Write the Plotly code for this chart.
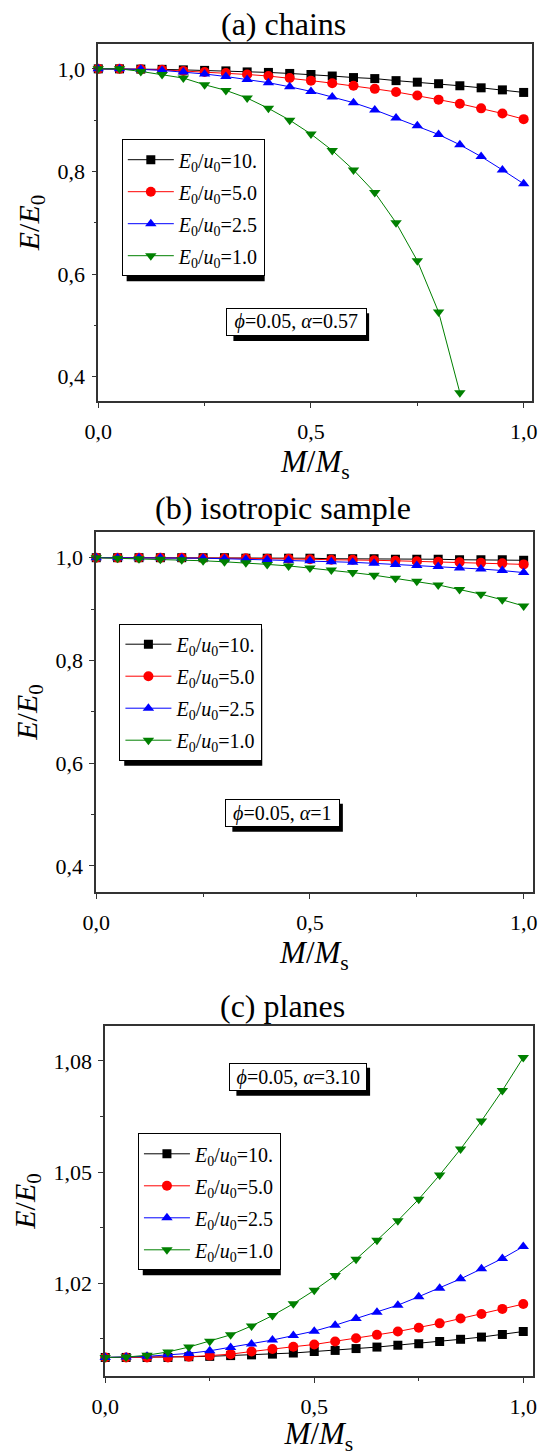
import plotly.graph_objects as go

# ---------------- data ----------------
x_vals = [0.00, 0.05, 0.10, 0.15, 0.20, 0.25, 0.30, 0.35, 0.40, 0.45, 0.50,
          0.55, 0.60, 0.65, 0.70, 0.75, 0.80, 0.85, 0.90, 0.95, 1.00]

series_names = ["<i>E</i><sub>0</sub>/<i>u</i><sub>0</sub>=10.",
                "<i>E</i><sub>0</sub>/<i>u</i><sub>0</sub>=5.0",
                "<i>E</i><sub>0</sub>/<i>u</i><sub>0</sub>=2.5",
                "<i>E</i><sub>0</sub>/<i>u</i><sub>0</sub>=1.0"]

# (a) chains
a_e10 = [1.000, 1.000, 0.9995, 0.999, 0.998, 0.997, 0.996, 0.994, 0.993, 0.991, 0.989,
         0.986, 0.983, 0.981, 0.977, 0.974, 0.971, 0.967, 0.963, 0.959, 0.954]
a_e5 = [1.000, 1.000, 0.999, 0.998, 0.996, 0.994, 0.992, 0.989, 0.986, 0.982, 0.977,
        0.972, 0.967, 0.961, 0.955, 0.948, 0.940, 0.932, 0.923, 0.913, 0.902]
a_e25 = [1.000, 1.000, 0.999, 0.997, 0.994, 0.990, 0.985, 0.979, 0.973, 0.965, 0.956,
         0.945, 0.934, 0.920, 0.904, 0.889, 0.872, 0.852, 0.829, 0.803, 0.776]
a_e1 = [1.000, 1.000, 0.995, 0.989, 0.982, 0.969, 0.958, 0.943, 0.923, 0.900, 0.873,
        0.841, 0.803, 0.759, 0.700, 0.626, 0.526, 0.369]

# (b) isotropic sample
b_e10 = [1.000, 1.000, 1.000, 1.000, 1.000, 1.000, 1.000, 0.999, 0.999, 0.999, 0.999,
         0.998, 0.998, 0.998, 0.997, 0.997, 0.997, 0.996, 0.996, 0.996, 0.995]
b_e5 = [1.000, 1.000, 1.000, 1.000, 1.000, 0.999, 0.999, 0.999, 0.998, 0.998, 0.997,
        0.996, 0.996, 0.995, 0.994, 0.993, 0.992, 0.991, 0.990, 0.989, 0.987]
b_e25 = [1.000, 1.000, 1.000, 1.000, 0.999, 0.999, 0.998, 0.997, 0.996, 0.995, 0.994,
         0.992, 0.991, 0.989, 0.987, 0.985, 0.983, 0.980, 0.978, 0.975, 0.971]
b_e1 = [1.000, 0.999, 0.998, 0.997, 0.996, 0.994, 0.992, 0.990, 0.987, 0.984, 0.980,
        0.976, 0.971, 0.966, 0.960, 0.954, 0.947, 0.938, 0.929, 0.918, 0.906]

# (c) planes
c_e10 = [1.0000, 1.0000, 1.0000, 1.0000, 1.0002, 1.0003, 1.0005, 1.0007, 1.0009, 1.0012, 1.0016,
         1.0019, 1.0024, 1.0028, 1.0033, 1.0037, 1.0043, 1.0049, 1.0055, 1.0062, 1.0070]
c_e5 = [1.0000, 1.0000, 1.0000, 1.0000, 1.0002, 1.0005, 1.0009, 1.0016, 1.0023, 1.0029, 1.0035,
        1.0043, 1.0052, 1.0061, 1.0070, 1.0080, 1.0092, 1.0105, 1.0117, 1.0131, 1.0144]
c_e25 = [1.0000, 1.0001, 1.0003, 1.0007, 1.0011, 1.0018, 1.0027, 1.0036, 1.0047, 1.0059, 1.0071,
         1.0087, 1.0105, 1.0122, 1.0141, 1.0164, 1.0187, 1.0212, 1.0239, 1.0267, 1.0299]
c_e1 = [1.0000, 1.0001, 1.0006, 1.0015, 1.0028, 1.0044, 1.0061, 1.0085, 1.0113, 1.0145, 1.0181,
        1.0221, 1.0265, 1.0316, 1.0369, 1.0427, 1.0492, 1.0562, 1.0638, 1.0720, 1.0809]

panel_titles = ["(a) chains", "(b) isotropic sample", "(c) planes"]
param_labels = ["<i>ϕ</i>=0.05, <i>α</i>=0.57",
                "<i>ϕ</i>=0.05, <i>α</i>=1",
                "<i>ϕ</i>=0.05, <i>α</i>=3.10"]

x_ticks = [0.0, 0.5, 1.0]
x_minor = [0.25, 0.75]
y_ticks_ab = [0.4, 0.6, 0.8, 1.0]
y_minor_ab = [0.5, 0.7, 0.9]
y_ticks_c = [1.02, 1.05, 1.08]
y_minor_c = [1.005, 1.035, 1.065]

# ---------------- style ----------------
W, H = 547, 1456
FONT = "Liberation Serif, Times New Roman, serif"
colors = ["#000000", "#FF0000", "#0000FF", "#008000"]
symbols = ["square", "circle", "triangle-up", "triangle-down"]
msizes = [9, 10, 10, 10]


def px(xp):
    return xp / W


def py(yp):
    return 1 - yp / H


# panel geometry in pixels: (left, right, top, bottom)
boxes = [(87.3, 537.0, 44.0, 401.0),
         (85.2, 537.3, 531.7, 892.3),
         (94.5, 537.3, 1026.0, 1376.0)]
x_ranges = [[0, 1.0204], [0, 1.021], [0, 1.0224]]
y_ranges = [[0.3527, 1.0484], [0.3488, 1.0506], [0.995, 1.0894]]

LEG_FONT = 20
LEG_GAP = 3
LEG_ITEMW = 46
legend_pos = [(111.7, 139.2), (109.2, 623.7), (128.4, 1133.3)]
legend_w = 143
legend_h = 4 * (LEG_FONT * 1.3 + 3) + 3 * LEG_GAP + 12
SHADOW = 5

title_pos = [(278.7, 24), (279.1, 507.5), (278.3, 1005.8)]
# parameter boxes: (left, right, top, bottom) in pixels
label_boxes = [(222.3, 362.9, 308.3, 336.0),
               (221.2, 335.7, 798.7, 826.7),
               (225.4, 363.9, 1062.7, 1090.7)]

all_data = [[a_e10, a_e5, a_e25, a_e1],
            [b_e10, b_e5, b_e25, b_e1],
            [c_e10, c_e5, c_e25, c_e1]]

fig = go.Figure()

for p in range(3):
    xa = "x" if p == 0 else f"x{p + 1}"
    ya = "y" if p == 0 else f"y{p + 1}"
    lg = "legend" if p == 0 else f"legend{p + 1}"
    for k in range(4):
        yv = all_data[p][k]
        fig.add_trace(go.Scatter(
            x=x_vals[:len(yv)], y=yv, name=series_names[k],
            mode="lines+markers", xaxis=xa, yaxis=ya, legend=lg,
            legendgroup=f"{p}-{k}",
            line=dict(color=colors[k], width=1),
            marker=dict(symbol=symbols[k], size=msizes[k], color=colors[k]),
            cliponaxis=False,
        ))

layout = dict(
    width=W, height=H,
    margin=dict(l=0, r=0, t=0, b=0),
    paper_bgcolor="white", plot_bgcolor="white",
    separators=",.",
    font=dict(family=FONT, size=20, color="black"),
    showlegend=True,
)

axis_line = dict(showline=True, linecolor="#333333", linewidth=1.5, mirror=True,
                 showgrid=False, zeroline=False, ticks="outside", ticklen=5,
                 tickwidth=1.2, tickcolor="#333333",
                 tickfont=dict(family=FONT, size=22, color="black"))

annotations = []
shapes = []
for p in range(3):
    l, r, t, b = boxes[p]
    xa_name = "xaxis" if p == 0 else f"xaxis{p + 1}"
    ya_name = "yaxis" if p == 0 else f"yaxis{p + 1}"
    xa = "x" if p == 0 else f"x{p + 1}"
    ya = "y" if p == 0 else f"y{p + 1}"
    layout[xa_name] = dict(
        axis_line, domain=[px(l), px(r)], anchor=ya, range=x_ranges[p],
        tickmode="array", tickvals=x_ticks, tickformat=".1f", ticklabelstandoff=5,
        minor=dict(tickmode="array", tickvals=x_minor, ticks="outside", ticklen=3,
                   tickcolor="#333333", tickwidth=1.2),
        title=dict(text="<i>M</i>/<i>M</i><sub>s</sub>",
                   font=dict(family=FONT, size=31), standoff=4),
    )
    if p < 2:
        ytv, ymn, yfmt = y_ticks_ab, y_minor_ab, ".1f"
    else:
        ytv, ymn, yfmt = y_ticks_c, y_minor_c, ".2f"
    layout[ya_name] = dict(
        axis_line, domain=[py(b), py(t)], anchor=xa, range=y_ranges[p],
        tickmode="array", tickvals=ytv, tickformat=yfmt, ticklabelstandoff=2,
        minor=dict(tickmode="array", tickvals=ymn, ticks="outside", ticklen=3,
                   tickcolor="#333333", tickwidth=1.2),
        title=dict(text="<i>E</i>/<i>E</i><sub>0</sub>",
                   font=dict(family=FONT, size=30), standoff=9),
    )
    lg_name = "legend" if p == 0 else f"legend{p + 1}"
    lx, ly = legend_pos[p]
    layout[lg_name] = dict(
        x=px(lx), y=py(ly), xanchor="left", yanchor="top",
        bgcolor="white", bordercolor="black", borderwidth=1,
        font=dict(family=FONT, size=LEG_FONT, color="black"),
        itemwidth=LEG_ITEMW, tracegroupgap=LEG_GAP,
    )
    # legend drop shadow
    shapes.append(dict(type="rect", xref="paper", yref="paper",
                       x0=px(lx + SHADOW), x1=px(lx + legend_w + SHADOW),
                       y0=py(ly + legend_h + SHADOW), y1=py(ly + SHADOW),
                       fillcolor="black", line=dict(width=0), layer="above"))
    # panel title
    tx, ty = title_pos[p]
    annotations.append(dict(text=panel_titles[p], x=px(tx), y=py(ty), xref="paper",
                            yref="paper", xanchor="center", yanchor="middle",
                            showarrow=False, font=dict(family=FONT, size=32)))
    # parameter box with drop shadow
    bl, br, bt, bb = label_boxes[p]
    shapes.append(dict(type="rect", xref="paper", yref="paper",
                       x0=px(bl + SHADOW), x1=px(br + SHADOW),
                       y0=py(bb + SHADOW), y1=py(bt + SHADOW),
                       fillcolor="black", line=dict(width=0), layer="above"))
    annotations.append(dict(
        text=param_labels[p], x=px((bl + br) / 2), y=py((bt + bb) / 2),
        xref="paper", yref="paper", xanchor="center", yanchor="middle",
        showarrow=False, width=(br - bl) - 4, height=(bb - bt) - 4,
        font=dict(family=FONT, size=20, color="black"),
        bgcolor="white", bordercolor="black", borderwidth=1, borderpad=1))

layout["annotations"] = annotations
layout["shapes"] = shapes
fig.update_layout(**layout)

fig.write_html("out.html",
               config={"displayModeBar": False},
               post_script="document.body.style.margin='0px';"
                           "document.body.style.overflow='hidden';")
